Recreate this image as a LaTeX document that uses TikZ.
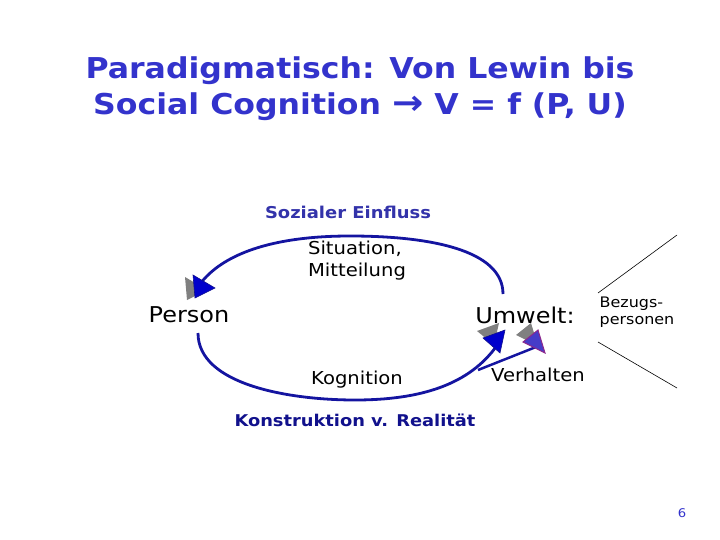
\documentclass[tikz,border=0pt]{standalone}
\usepackage{fontspec}
\setmainfont{DejaVu Sans}[FakeStretch=1.1]
\definecolor{titleblue}{RGB}{51,51,204}
\definecolor{sozblue}{RGB}{51,51,170}
\definecolor{navy}{RGB}{17,17,140}
\definecolor{arcblue}{RGB}{20,20,160}
\definecolor{headblue}{RGB}{0,0,204}
\definecolor{violet}{RGB}{70,60,200}
\definecolor{purpleedge}{RGB}{140,40,140}
\definecolor{shadow}{RGB}{128,128,128}
\tikzset{
  arc/.style={draw=arcblue, line width=2.8pt},
  lbl/.style={inner sep=0pt, align=left, font=\fontsize{17.8}{22}\selectfont},
  big/.style={inner sep=0pt, font=\fontsize{21.8}{26}\selectfont},
  shade/.style={fill=shadow, draw=none},
  head/.style={fill=headblue, draw=navy, line width=0.6pt},
  vhead/.style={fill=violet, draw=purpleedge, line width=1pt},
  thin/.style={draw=black, line width=0.6pt}
}
\begin{document}
\begin{tikzpicture}[x=1pt,y=-1pt]
\useasboundingbox (0,0) rectangle (720,540);
% title
\node[inner sep=0pt, align=center, text=titleblue, font=\fontsize{28.7}{36}\bfseries\selectfont] (title) at (360,89)
  {Paradigmatisch: Von Lewin bis\\Social Cognition {\fontsize{34}{36}\selectfont →} V = f (P, U)};
% labels
\node[inner sep=0pt, text=sozblue, font=\fontsize{16.3}{19}\bfseries\selectfont] (soz) at (348,212) {Sozialer Einfluss};
\node[lbl] (sit) at (357,261) {Situation,\\Mitteilung};
\node[big] (person) at (189,315) {Person};
\node[big] (umwelt) at (525,315) {Umwelt:};
\node[inner sep=0pt, align=left, font=\fontsize{14.5}{17}\selectfont] (bez) at (637,312) {Bezugs-\\personen};
\node[lbl] (kog) at (357,380) {Kognition};
\node[lbl] (verh) at (538,375) {Verhalten};
\node[inner sep=0pt, text=navy, font=\fontsize{16.2}{19}\bfseries\selectfont] (konst) at (355,420) {Konstruktion v. Realität};
\node[inner sep=0pt, text=titleblue, font=\fontsize{12}{14}\selectfont] (page) at (682,513) {6};
% coordinates
\coordinate (uStart) at (503,294);
\coordinate (uEnd) at (200,284);
\coordinate (lStart) at (198,333);
\coordinate (lEnd) at (498,344);
\coordinate (vStart) at (478,370);
\coordinate (vEnd) at (536,347);
\coordinate (b1) at (598,293);
\coordinate (b2) at (677,235);
\coordinate (b3) at (598,342);
\coordinate (b4) at (677,388);
% thin lines
\draw[thin] (b1) -- (b2);
\draw[thin] (b3) -- (b4);
% arcs
\draw[arc] (uStart) .. controls (503,250) and (430,236) .. (350,236)
  .. controls (270,236) and (222,255) .. (uEnd);
\draw[arc] (lStart) .. controls (198,385) and (290,400) .. (355,400)
  .. controls (420,400) and (470,385) .. (lEnd);
\draw[arc, line width=2.5pt] (vStart) -- (vEnd);
% arrowheads
\fill[shade] (185,277) -- (207,290) -- (187,300) -- cycle;
\draw[head] (193,275) -- (215,288) -- (195,298) -- cycle;
\fill[shade] (477,331) -- (499,323) -- (494,345) -- cycle;
\draw[head] (483,338) -- (505,330) -- (500,353) -- cycle;
\fill[shade] (516,335) -- (531,323) -- (538,346) -- cycle;
\draw[vhead] (523,342) -- (538,330) -- (545,353) -- cycle;
\end{tikzpicture}
\end{document}
